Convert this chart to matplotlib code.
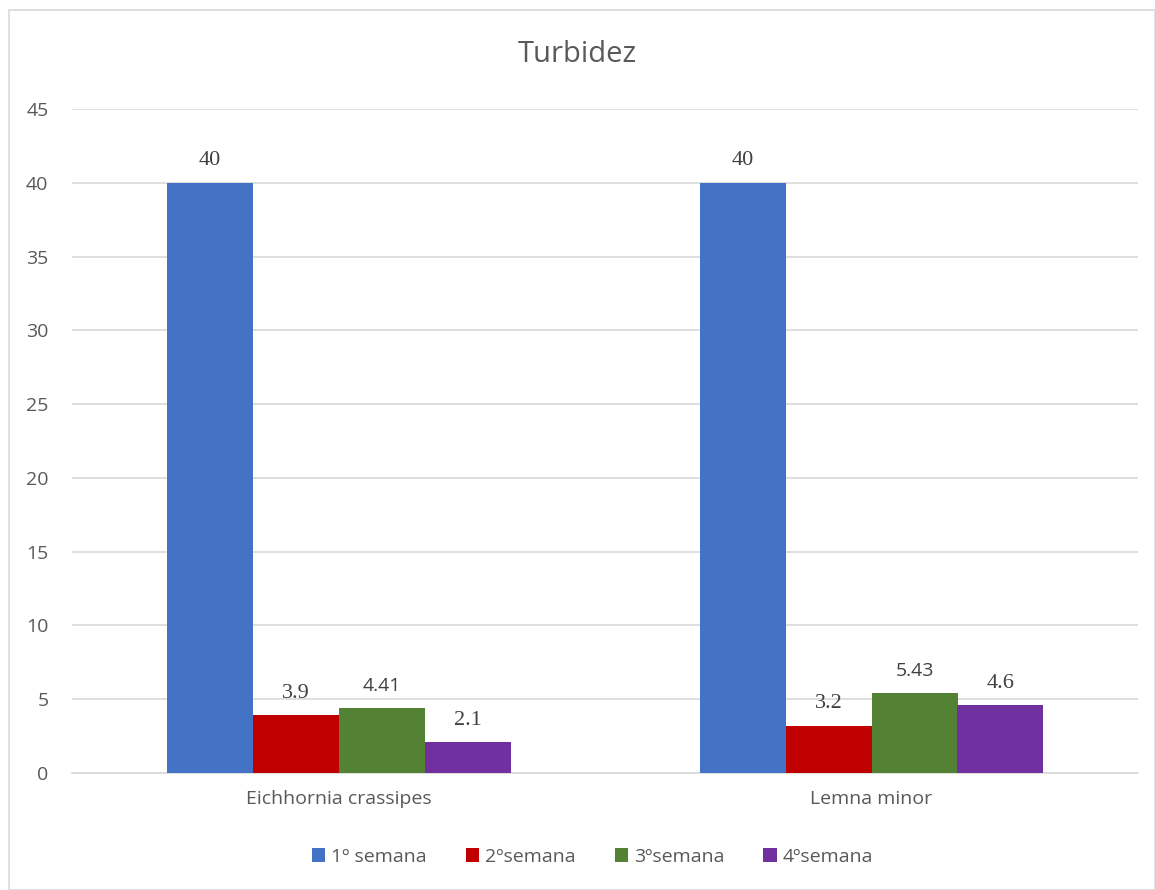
import matplotlib.pyplot as plt
import numpy as np
from matplotlib.patches import Rectangle

categories = ["Eichhornia crassipes", "Lemna minor"]
series_names = ["1º semana", "2ºsemana", "3ºsemana", "4ºsemana"]
week1 = [40, 40]
week2 = [3.9, 3.2]
week3 = [4.41, 5.43]
week4 = [2.1, 4.6]
colors = ["#4472C4", "#C00000", "#548235", "#7030A0"]
# the source chart mixes fonts on its value labels
label_fonts = ["Liberation Serif", "Liberation Serif", "Open Sans", "Liberation Serif"]
label_sizes = [16, 16, 14, 16]

W, H = 1155, 890
fig = plt.figure(figsize=(W / 100, H / 100), dpi=100)
ax = fig.add_axes([72 / W, 1 - 773 / H, (1138 - 72) / W, (773 - 109) / H])

fig.patches.append(Rectangle((9 / W, 0), 1 - 9 / W, 1 - 10 / H, transform=fig.transFigure,
                             fill=False, edgecolor="#D9D9D9", linewidth=1.2))

x = np.arange(len(categories))
width = 86 / 533
values = [week1, week2, week3, week4]
for i, (name, vals) in enumerate(zip(series_names, values)):
    pos = x + (i - 1.5) * width
    ax.bar(pos, vals, width=width, color=colors[i], label=name, zorder=3)
    for px, v in zip(pos, vals):
        ax.annotate(f"{v:g}", (px, v), xytext=(0, 9), textcoords="offset points",
                    ha="center", va="bottom", fontsize=label_sizes[i], color="#404040",
                    family=label_fonts[i])

ax.set_xlim(-0.5, 1.5)
ax.set_ylim(0, 45)
ax.set_yticks(range(0, 46, 5))
ax.set_xticks(x)
ax.set_xticklabels(categories)
ax.grid(axis="y", color="#D9D9D9", linewidth=1.2, zorder=0)
for s in ["top", "right", "left"]:
    ax.spines[s].set_visible(False)
ax.spines["bottom"].set_color("#D9D9D9")
ax.spines["bottom"].set_linewidth(1.2)
ax.tick_params(length=0, labelsize=14, labelcolor="#595959", pad=12)
ax.tick_params(axis="y", pad=17)
for t in ax.get_xticklabels() + ax.get_yticklabels():
    t.set_family("Open Sans")

fig.text(0.5, 1 - 55 / H, "Turbidez", ha="center", va="center", fontsize=21,
         color="#595959", family="Open Sans")

leg = fig.legend(loc="center", bbox_to_anchor=(0.513, 1 - 857 / H), ncol=4, frameon=False,
                 handlelength=0.7, handleheight=0.7, handletextpad=0.3, columnspacing=2.0,
                 prop={"family": "Open Sans", "size": 14})
for t in leg.get_texts():
    t.set_color("#595959")

fig.savefig("out.png", dpi=100)
